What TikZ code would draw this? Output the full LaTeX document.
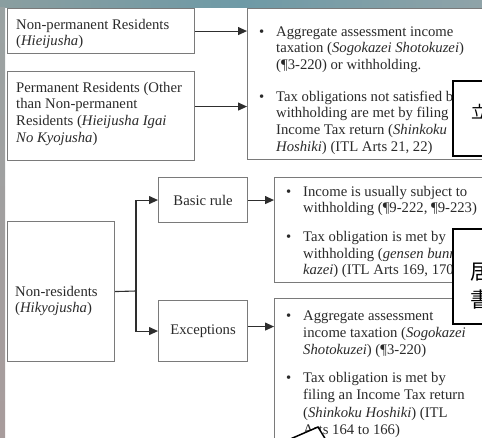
\documentclass[tikz,border=0pt]{standalone}
\usepackage{fontspec}
\setmainfont{Liberation Serif}
\newfontfamily\cjkfont{Noto Sans CJK JP}
\usetikzlibrary{arrows.meta}
\definecolor{boxc}{HTML}{7A7A7A}
\definecolor{linec}{HTML}{2E2E2E}
\definecolor{txtc}{HTML}{2A2A2A}
\definecolor{topL}{HTML}{8A9EA0}
\definecolor{topM}{HTML}{6E9AA6}
\definecolor{topR}{HTML}{8FA3A8}
\definecolor{sideT}{HTML}{9AA2A2}
\definecolor{sideB}{HTML}{A89C9C}
\newcommand\fs{\fontsize{14.7}{16.6}\selectfont}
\newcommand\fsw{\fontsize{14.7}{17.2}\selectfont}
\begin{document}
\begin{tikzpicture}[x=1pt,y=-1pt,
  box/.style={draw=boxc, line width=1.1pt, fill=white, anchor=north west, inner sep=0, font=\fs, text=txtc},
  txt/.style={anchor=north west, inner sep=0, align=left, font=\fs, text=txtc},
  arr/.style={draw=linec, line width=1.1pt, -{Triangle[length=9pt,width=8pt]}},
  conn/.style={draw=linec, line width=1.1pt},
  ovl/.style={draw=black, line width=1.6pt, fill=white, anchor=north west, inner sep=0},
  cjk/.style={anchor=west, inner sep=0, font=\cjkfont\fontsize{21}{25}\selectfont, text=black}]
\useasboundingbox (0,0) rectangle (482,437);
\clip (0,0) rectangle (482,437);
\fill[white] (0,0) rectangle (482,437);
\shade[left color=topL, right color=topR, middle color=topM] (0,0) rectangle (482,7);
\shade[top color=sideT, bottom color=sideB] (0,7) rectangle (5,437);

% boxes
\node[box, minimum width=187, minimum height=45] (A) at (7,8) {};
\node[box, minimum width=187, minimum height=89] (B) at (7,71) {};
\node[box, minimum width=250, minimum height=151] (R1) at (247,8) {};
\node[box, minimum width=107, minimum height=140] (C) at (7,221) {};
\node[box, minimum width=89, minimum height=45] (D) at (158,177) {Basic rule};
\node[box, minimum width=89, minimum height=61] (E) at (158,300) {Exceptions};
\node[box, minimum width=230, minimum height=105] (R2) at (274,177) {};
\node[box, minimum width=230, minimum height=160] (R3) at (274,298) {};

% texts
\node[txt] (tA) at (16,17.4) {\strut Non-permanent Residents\\(\textit{Hieijusha})};
\node[txt] (tB) at (16,80.4) {\strut Permanent Residents (Other\\than Non-permanent\\Residents (\textit{Hieijusha Igai}\\\textit{No Kyojusha})};
\node[txt] (tC) at (15,284.4) {\strut Non-residents\\(\textit{Hikyojusha})};

\node[txt] (r1d1) at (259,24.4) {\strut•};
\node[txt] (r1t1) at (276,24.4) {\strut Aggregate assessment income\\taxation (\textit{Sogokazei Shotokuzei})\\(¶3-220) or withholding.};
\node[txt] (r1d2) at (259,89.4) {\strut•};
\node[txt] (r1t2) at (276,89.4) {\strut Tax obligations not satisfied by\\withholding are met by filing an\\Income Tax return (\textit{Shinkoku}\\\textit{Hoshiki}) (ITL Arts 21, 22)};

\node[txt] (r2d1) at (286,184.4) {\strut•};
\node[txt] (r2t1) at (303,184.4) {\strut Income is usually subject to\\withholding (¶9-222, ¶9-223)};
\node[txt] (r2d2) at (286,229.9) {\strut•};
\node[txt] (r2t2) at (303,229.9) {\strut Tax obligation is met by\\withholding (\textit{gensen bunri}\\\textit{kazei}) (ITL Arts 169, 170)};

\node[txt, font=\fsw] (r3d1) at (286,308) {\strut•};
\node[txt, font=\fsw] (r3t1) at (303,308) {\strut Aggregate assessment\\income taxation (\textit{Sogokazei}\\\textit{Shotokuzei}) (¶3-220)};
\node[txt, font=\fsw] (r3d2) at (286,370.5) {\strut•};
\node[txt, font=\fsw] (r3t2) at (303,370.5) {\strut Tax obligation is met by\\filing an Income Tax return\\(\textit{Shinkoku Hoshiki}) (ITL\\Arts 164 to 166)};

% connectors
\draw[arr] (A.east) -- (A.east -| R1.west);
\draw[arr] ([yshift=9.5pt]B.east) -- ([yshift=9.5pt]B.east -| R1.west);
\coordinate (J) at (136,291);
\draw[conn] (C.east) -- (J);
\draw[arr] (J) |- (D.west);
\draw[arr] (J) |- (E.west);
\draw[arr] (D.east) -- (D.east -| R2.west);
\draw[arr] ([yshift=4.5pt]E.east) -- ([yshift=4.5pt]E.east -| R3.west);

% overlays
\node[ovl, minimum width=45, minimum height=75] (O1) at (452,80) {};
\node[anchor=west, inner sep=0, font=\cjkfont\fontsize{17}{20}\selectfont, text=black] (g1) at (471,112) {立};
\node[ovl, minimum width=45, minimum height=95] (O2) at (452,228) {};
\node[cjk] (g2) at (470,272) {居};
\node[cjk] (g3) at (470,300) {書};
\draw[black, line width=1.5pt, fill=white] (288,440) -- (318,427) -- (326,440);
\end{tikzpicture}
\end{document}
